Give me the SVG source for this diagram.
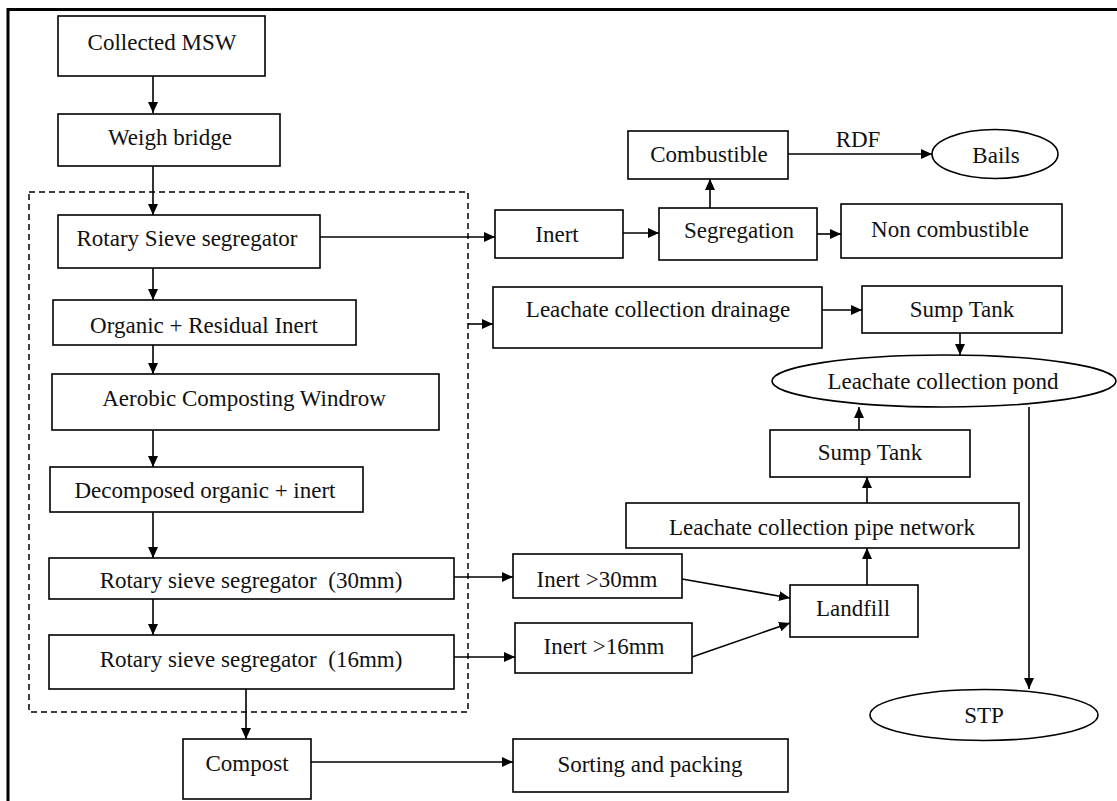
<svg xmlns="http://www.w3.org/2000/svg" width="1117" height="801" viewBox="0 0 1117 801">
<defs>
<style>
.box{fill:#fff;stroke:#000;stroke-width:1.6}
.t{font-family:"Liberation Serif","Times New Roman",serif;font-size:23px;fill:#111;text-anchor:middle}
.c{fill:none;stroke:#000;stroke-width:1.6}
.frame{fill:none;stroke:#000;stroke-width:3}
.dash{fill:none;stroke:#000;stroke-width:1.5;stroke-dasharray:6 4}
</style>
<marker id="ah" markerUnits="userSpaceOnUse" markerWidth="12" markerHeight="10" refX="11" refY="5" orient="auto">
<path d="M0,0 L11,5 L0,10 Z" fill="#000"/>
</marker>
</defs>
<rect x="0" y="0" width="1117" height="801" fill="#fff"/>
<path class="frame" d="M8,801 V9.5 H1117"/>
<rect id="group-box" class="dash" x="29" y="192" width="439" height="520"/>

<g id="connectors">
<path class="c" d="M153,76 V113" marker-end="url(#ah)"/>
<path class="c" d="M153,166 V215" marker-end="url(#ah)"/>
<path class="c" d="M320,237 H495" marker-end="url(#ah)"/>
<path class="c" d="M623,233 H659" marker-end="url(#ah)"/>
<path class="c" d="M710,208 V179" marker-end="url(#ah)"/>
<path class="c" d="M817,234 H841" marker-end="url(#ah)"/>
<path class="c" d="M788,154 H932" marker-end="url(#ah)"/>
<path class="c" d="M153,268 V300" marker-end="url(#ah)"/>
<path class="c" d="M153,345 V374" marker-end="url(#ah)"/>
<path class="c" d="M153,430 V467" marker-end="url(#ah)"/>
<path class="c" d="M153,512 V558" marker-end="url(#ah)"/>
<path class="c" d="M153,599 V635" marker-end="url(#ah)"/>
<path class="c" d="M246,689 V739" marker-end="url(#ah)"/>
<path class="c" d="M311,762 H513" marker-end="url(#ah)"/>
<path class="c" d="M454,577 H513" marker-end="url(#ah)"/>
<path class="c" d="M454,657 H515" marker-end="url(#ah)"/>
<path class="c" d="M682,579 L790,598" marker-end="url(#ah)"/>
<path class="c" d="M692,657 L790,623" marker-end="url(#ah)"/>
<path class="c" d="M867,585 V548" marker-end="url(#ah)"/>
<path class="c" d="M867,503 V477" marker-end="url(#ah)"/>
<path class="c" d="M859,430 V407" marker-end="url(#ah)"/>
<path class="c" d="M960,333 V355" marker-end="url(#ah)"/>
<path class="c" d="M822,310 H862" marker-end="url(#ah)"/>
<path class="c" d="M468,324 H493" marker-end="url(#ah)"/>
<path class="c" d="M1029,407 V689" marker-end="url(#ah)"/>
<text class="t" x="858" y="147">RDF</text>
</g>

<g id="collected-msw"><rect class="box" x="58" y="16" width="207" height="60"/><text class="t" x="162" y="50">Collected MSW</text></g>
<g id="weigh-bridge"><rect class="box" x="58" y="114" width="222" height="52"/><text class="t" x="170" y="145">Weigh bridge</text></g>
<g id="rotary-sieve"><rect class="box" x="58" y="215" width="262" height="53"/><text class="t" x="187" y="246">Rotary Sieve segregator</text></g>
<g id="organic-residual"><rect class="box" x="53" y="300" width="303" height="45"/><text class="t" x="204" y="333">Organic + Residual Inert</text></g>
<g id="aerobic"><rect class="box" x="52" y="374" width="387" height="56"/><text class="t" x="244" y="406">Aerobic Composting Windrow</text></g>
<g id="decomposed"><rect class="box" x="50" y="467" width="313" height="45"/><text class="t" x="205" y="498">Decomposed organic + inert</text></g>
<g id="rotary-30"><rect class="box" x="49" y="558" width="405" height="41"/><text class="t" x="251" y="588" xml:space="preserve">Rotary sieve segregator  (30mm)</text></g>
<g id="rotary-16"><rect class="box" x="49" y="635" width="405" height="54"/><text class="t" x="251" y="667" xml:space="preserve">Rotary sieve segregator  (16mm)</text></g>
<g id="compost"><rect class="box" x="183" y="739" width="128" height="60"/><text class="t" x="247" y="771">Compost</text></g>
<g id="sorting"><rect class="box" x="513" y="739" width="275" height="53"/><text class="t" x="650" y="772">Sorting and packing</text></g>
<g id="inert-30"><rect class="box" x="513" y="554" width="169" height="44"/><text class="t" x="597" y="587">Inert &gt;30mm</text></g>
<g id="inert-16"><rect class="box" x="515" y="623" width="177" height="50"/><text class="t" x="604" y="654">Inert &gt;16mm</text></g>
<g id="landfill"><rect class="box" x="790" y="585" width="128" height="52"/><text class="t" x="853" y="616">Landfill</text></g>
<g id="pipe-network"><rect class="box" x="626" y="503" width="393" height="45"/><text class="t" x="822" y="535">Leachate collection pipe network</text></g>
<g id="sump-lower"><rect class="box" x="770" y="430" width="200" height="47"/><text class="t" x="870" y="460">Sump Tank</text></g>
<g id="sump-upper"><rect class="box" x="862" y="286" width="200" height="47"/><text class="t" x="962" y="317">Sump Tank</text></g>
<g id="drainage"><rect class="box" x="493" y="287" width="329" height="61"/><text class="t" x="658" y="317">Leachate collection drainage</text></g>
<g id="pond"><ellipse class="box" cx="944" cy="381" rx="172" ry="26"/><text class="t" x="943" y="389">Leachate collection pond</text></g>
<g id="stp"><ellipse class="box" cx="984" cy="715" rx="114" ry="25.5"/><text class="t" x="984" y="723">STP</text></g>
<g id="inert"><rect class="box" x="495" y="210" width="128" height="48"/><text class="t" x="557" y="242">Inert</text></g>
<g id="segregation"><rect class="box" x="659" y="208" width="158" height="52"/><text class="t" x="739" y="238">Segregation</text></g>
<g id="non-combustible"><rect class="box" x="841" y="204" width="221" height="54"/><text class="t" x="950" y="237">Non combustible</text></g>
<g id="combustible"><rect class="box" x="628" y="131" width="160" height="48"/><text class="t" x="709" y="162">Combustible</text></g>
<g id="bails"><ellipse class="box" cx="995" cy="154" rx="63" ry="24.5"/><text class="t" x="996" y="163">Bails</text></g>
</svg>
